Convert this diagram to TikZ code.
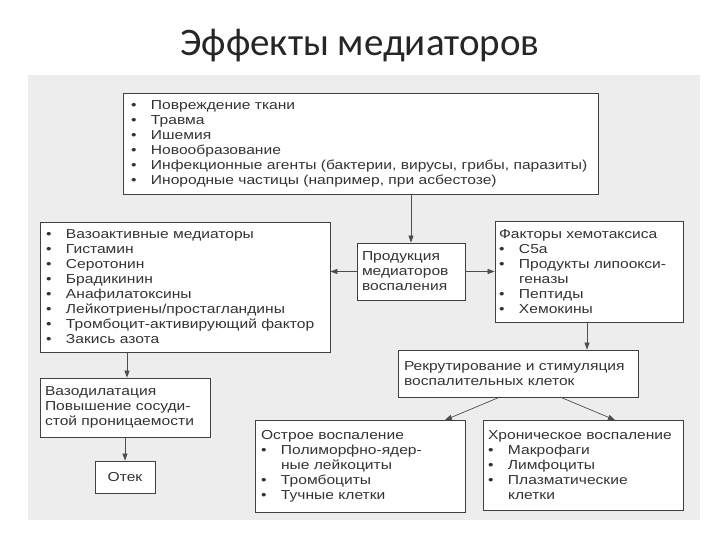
\documentclass[tikz,border=0pt]{standalone}
\usepackage{fontspec}
\setmainfont{Liberation Sans}[FakeStretch=1.2]
\newfontfamily\titlefont{Carlito}
\usetikzlibrary{arrows.meta}
\newcommand{\bl}[1]{\makebox[20pt][l]{\textbullet}#1}
\newcommand{\ct}{\hspace*{20pt}}
\begin{document}
\begin{tikzpicture}[x=1pt,y=-1pt,
  box/.style={draw=black!75,line width=0.8pt,fill=white,align=left,inner sep=0pt,
    font=\fontsize{13}{15}\selectfont,text=black!80},
  arr/.style={draw=black!70,line width=0.7pt,-{Triangle[length=7pt,width=5pt]}}]
\useasboundingbox (0,0) rectangle (720,540);
\fill[white] (0,0) rectangle (720,540);
\node[font=\titlefont\fontsize{39}{40}\selectfont,text=black!85] (title) at (360,46) {Эффекты медиаторов};
\fill[black!7] (28,75) rectangle (700,520);
\node[box,minimum width=475pt,minimum height=101pt,text width=459pt] (top) at (360.5,143.5)
{\bl{Повреждение ткани}\\\bl{Травма}\\\bl{Ишемия}\\\bl{Новообразование}\\\bl{Инфекционные агенты (бактерии, вирусы, грибы, паразиты)}\\\bl{Инородные частицы (например, при асбестозе)}};
\node[box,minimum width=290pt,minimum height=130pt,text width=278pt] (left) at (185,287)
{\bl{Вазоактивные медиаторы}\\\bl{Гистамин}\\\bl{Серотонин}\\\bl{Брадикинин}\\\bl{Анафилатоксины}\\\bl{Лейкотриены/простагландины}\\\bl{Тромбоцит-активирующий фактор}\\\bl{Закись азота}};
\node[box,minimum width=108pt,minimum height=57pt,text width=98pt] (mid) at (411,271.5)
{Продукция\\медиаторов\\воспаления};
\node[box,minimum width=188pt,minimum height=101pt,text width=180pt] (right) at (589,271.5)
{Факторы хемотаксиса\\\bl{С5а}\\\bl{Продукты липоокси-}\\\ct генaзы\\\bl{Пептиды}\\\bl{Хемокины}};
\node[box,minimum width=240pt,minimum height=47pt,text width=228pt] (rec) at (518,373.5)
{Рекрутирование и стимуляция\\воспалительных клеток};
\node[box,minimum width=170pt,minimum height=59pt,text width=160pt] (vaso) at (125,407.5)
{Вазодилатация\\Повышение сосуди-\\стой проницаемости};
\node[box,minimum width=60pt,minimum height=32pt,align=center] (otek) at (125,477) {Отек};
\node[box,minimum width=210pt,minimum height=92pt,text width=198pt] (acute) at (360,466)
{Острое воспаление\\\bl{Полиморфно-ядер-}\\\ct ные лейкоциты\\\bl{Тромбоциты}\\\bl{Тучные клетки}};
\node[box,minimum width=200pt,minimum height=90pt,text width=190pt] (chron) at (583,465)
{Хроническое воспаление\\\bl{Макрофаги}\\\bl{Лимфоциты}\\\bl{Плазматические}\\\ct клетки};
\draw[arr] (top.south -| mid.north) -- (mid.north);
\draw[arr] (mid.west) -- (mid.west -| left.east);
\draw[arr] (mid.east) -- (mid.east -| right.west);
\draw[arr] (587,322) coordinate (r1) -- (r1 |- rec.north);
\draw[arr] (127,352) coordinate (l1) -- (l1 |- vaso.north);
\draw[arr] (vaso.south -| otek.north) -- (otek.north);
\draw[arr] (500,397) coordinate (a1) -- (445,420) coordinate (a2);
\draw[arr] (560,397) coordinate (b1) -- (615,420) coordinate (b2);
\end{tikzpicture}
\end{document}
